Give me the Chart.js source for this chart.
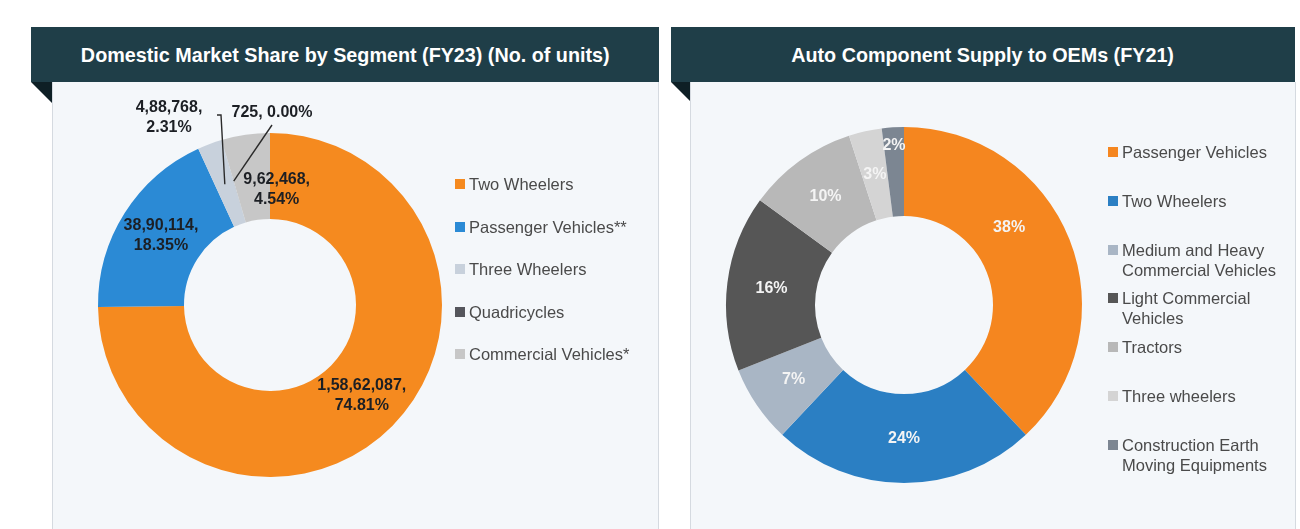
<!DOCTYPE html>
<html>
<head>
<meta charset="utf-8">
<script src="https://cdn.jsdelivr.net/npm/chart.js@4.4.1/dist/chart.umd.min.js"></script>
<style>
  html, body { margin: 0; padding: 0; background: #fff; }
  body { width: 1300px; height: 529px; position: relative; overflow: hidden; font-family: "Liberation Sans", Arial, sans-serif; }
  .head { position: absolute; top: 27px; height: 55px; background: #1f3e48; color: #fff;
          display: flex; align-items: center; justify-content: center;
          font-family: "Liberation Sans", Arial, sans-serif; font-weight: bold; font-size: 21px; }
  .head span { display: inline-block; transform: scaleX(0.94); white-space: nowrap; }
  .fold { position: absolute; top: 82px; width: 0; height: 0; border-top: 21px solid #0e1f25; border-left: 21px solid transparent; }
  .panel { position: absolute; top: 82px; height: 460px; background: #f4f7fa; border: 1px solid #d5dae0; border-top: none; box-sizing: border-box; }
  canvas { position: absolute; }
  .legend { position: absolute; margin: 0; padding: 0; list-style: none; font-size: 16.5px; color: #4a4a4a; }
  .legend li { display: flex; align-items: flex-start; line-height: 20px; }
  .legend i { flex: none; width: 10px; height: 10px; margin: 5px 4px 0 0; }
</style>
</head>
<body>
<div class="head" style="left:31px; width:628px;"><span>Domestic Market Share by Segment (FY23) (No. of units)</span></div>
<div class="fold" style="left:31px;"></div>
<div class="panel" style="left:52px; width:607px;"></div>
<canvas id="domChart" width="606" height="447" style="left:52px; top:82px;"></canvas>
<ul class="legend" id="domLegend" style="left:455px; top:174px;"></ul>

<div class="head" style="left:671px; width:624px;"><span>Auto Component Supply to OEMs (FY21)</span></div>
<div class="fold" style="left:671px;"></div>
<div class="panel" style="left:690px; width:606px;"></div>
<canvas id="oemChart" width="605" height="447" style="left:690px; top:82px;"></canvas>
<ul class="legend" id="oemLegend" style="left:1108px; top:142px;"></ul>

<script>
// FY23 domestic sales, number of units
const domSegments = ['Two Wheelers', 'Passenger Vehicles**', 'Three Wheelers', 'Quadricycles', 'Commercial Vehicles*'];
const domUnits = [15862087, 3890114, 488768, 725, 962468];
const domColors = ['#f58a1f', '#2b8ad5', '#c8d1dc', '#55565c', '#c7c7c7'];

// FY21 auto component supply to OEMs, %
const oemSegments = ['Passenger Vehicles', 'Two Wheelers', 'Medium and Heavy Commercial Vehicles',
  'Light Commercial Vehicles', 'Tractors', 'Three wheelers', 'Construction Earth Moving Equipments'];
const oemShare = [38, 24, 7, 16, 10, 3, 2];
const oemColors = ['#f5861f', '#2b7fc3', '#a9b6c5', '#565656', '#b8b8b8', '#d4d4d4', '#7c8692'];

// indian digit grouping: 1,58,62,087
function fmtIN(n) {
  const s = String(n);
  if (s.length <= 3) return s;
  const head = s.slice(0, -3).replace(/\B(?=(\d{2})+(?!\d))/g, ',');
  return head + ',' + s.slice(-3);
}

const domTotal = domUnits.reduce((a, b) => a + b, 0);
const domPct = domUnits.map(v => (v / domTotal * 100).toFixed(2) + '%');

// draws the value labels on (or beside) each slice
const sliceLabels = {
  id: 'sliceLabels',
  afterDatasetsDraw(chart, args, opts) {
    const ctx = chart.ctx;
    const arcs = chart.getDatasetMeta(0).data;
    ctx.save();
    ctx.font = opts.font;
    ctx.fillStyle = opts.color;
    ctx.textAlign = 'center';
    ctx.textBaseline = 'middle';
    arcs.forEach((arc, i) => {
      const p = arc.getProps(['x', 'y', 'startAngle', 'endAngle', 'innerRadius', 'outerRadius'], true);
      const mid = (p.startAngle + p.endAngle) / 2;
      const nudge = (opts.nudge && opts.nudge[i]) || {};
      const r = (p.innerRadius + p.outerRadius) / 2 + (nudge.r || 0);
      const ax = p.x + Math.cos(mid) * r;
      const ay = p.y + Math.sin(mid) * r;
      let tx = ax + (nudge.dx || 0), ty = ay + (nudge.dy || 0);
      const co = opts.callouts && opts.callouts[i];
      if (co) {
        ctx.strokeStyle = opts.lineColor;
        ctx.lineWidth = 1.4;
        ctx.beginPath();
        ctx.moveTo(ax, ay);
        co.path.forEach(pt => ctx.lineTo(p.x + pt[0], p.y + pt[1]));
        ctx.stroke();
        tx = p.x + co.dx; ty = p.y + co.dy;
      }
      const lines = opts.text(i, co);
      lines.forEach((s, k) => ctx.fillText(s, tx, ty + (k - (lines.length - 1) / 2) * opts.lineHeight));
    });
    ctx.restore();
  }
};

function buildLegend(id, names, colors, pitch, textWidth) {
  const ul = document.getElementById(id);
  names.forEach((n, i) => {
    const li = document.createElement('li');
    li.style.height = pitch + 'px';
    const sw = document.createElement('i');
    sw.style.background = colors[i];
    const sp = document.createElement('span');
    sp.textContent = n;
    if (textWidth) sp.style.width = textWidth + 'px';
    li.appendChild(sw); li.appendChild(sp);
    ul.appendChild(li);
  });
}

new Chart(document.getElementById('domChart'), {
  type: 'doughnut',
  data: { labels: domSegments, datasets: [{ data: domUnits, backgroundColor: domColors, borderWidth: 0 }] },
  options: {
    responsive: false, animation: false, events: [], cutout: '50%',
    layout: { padding: { left: 46, top: 51, right: 216, bottom: 52 } },
    plugins: {
      legend: { display: false }, tooltip: { enabled: false },
      sliceLabels: {
        font: 'bold 16px "Liberation Sans", Arial, sans-serif',
        color: '#1c1f24', lineColor: '#2a2a2a', lineHeight: 20,
        nudge: { 4: { dx: 25, dy: 12 } },
        callouts: {
          2: { path: [[-49, -190], [-53, -190]], dx: -101, dy: -187 },
          3: { path: [[2, -180]], dx: 2, dy: -192, oneLine: true }
        },
        text: (i, co) => co && co.oneLine
          ? [fmtIN(domUnits[i]) + ', ' + domPct[i]]
          : [fmtIN(domUnits[i]) + ',', domPct[i]]
      }
    }
  },
  plugins: [sliceLabels]
});

new Chart(document.getElementById('oemChart'), {
  type: 'doughnut',
  data: { labels: oemSegments, datasets: [{ data: oemShare, backgroundColor: oemColors, borderWidth: 0 }] },
  options: {
    responsive: false, animation: false, events: [], cutout: '50%',
    layout: { padding: { left: 36, top: 45, right: 213, bottom: 46 } },
    plugins: {
      legend: { display: false }, tooltip: { enabled: false },
      sliceLabels: {
        font: 'bold 16px "Liberation Sans", Arial, sans-serif',
        color: '#f4f4f4', lineHeight: 20,
        nudge: { 0: { dx: -19, dy: -28 }, 6: { r: 26 } },
        text: i => [oemShare[i] + '%']
      }
    }
  },
  plugins: [sliceLabels]
});

buildLegend('domLegend', domSegments, domColors, 42.5);
buildLegend('oemLegend', oemSegments, oemColors, 48.8, 172);
</script>
</body>
</html>
